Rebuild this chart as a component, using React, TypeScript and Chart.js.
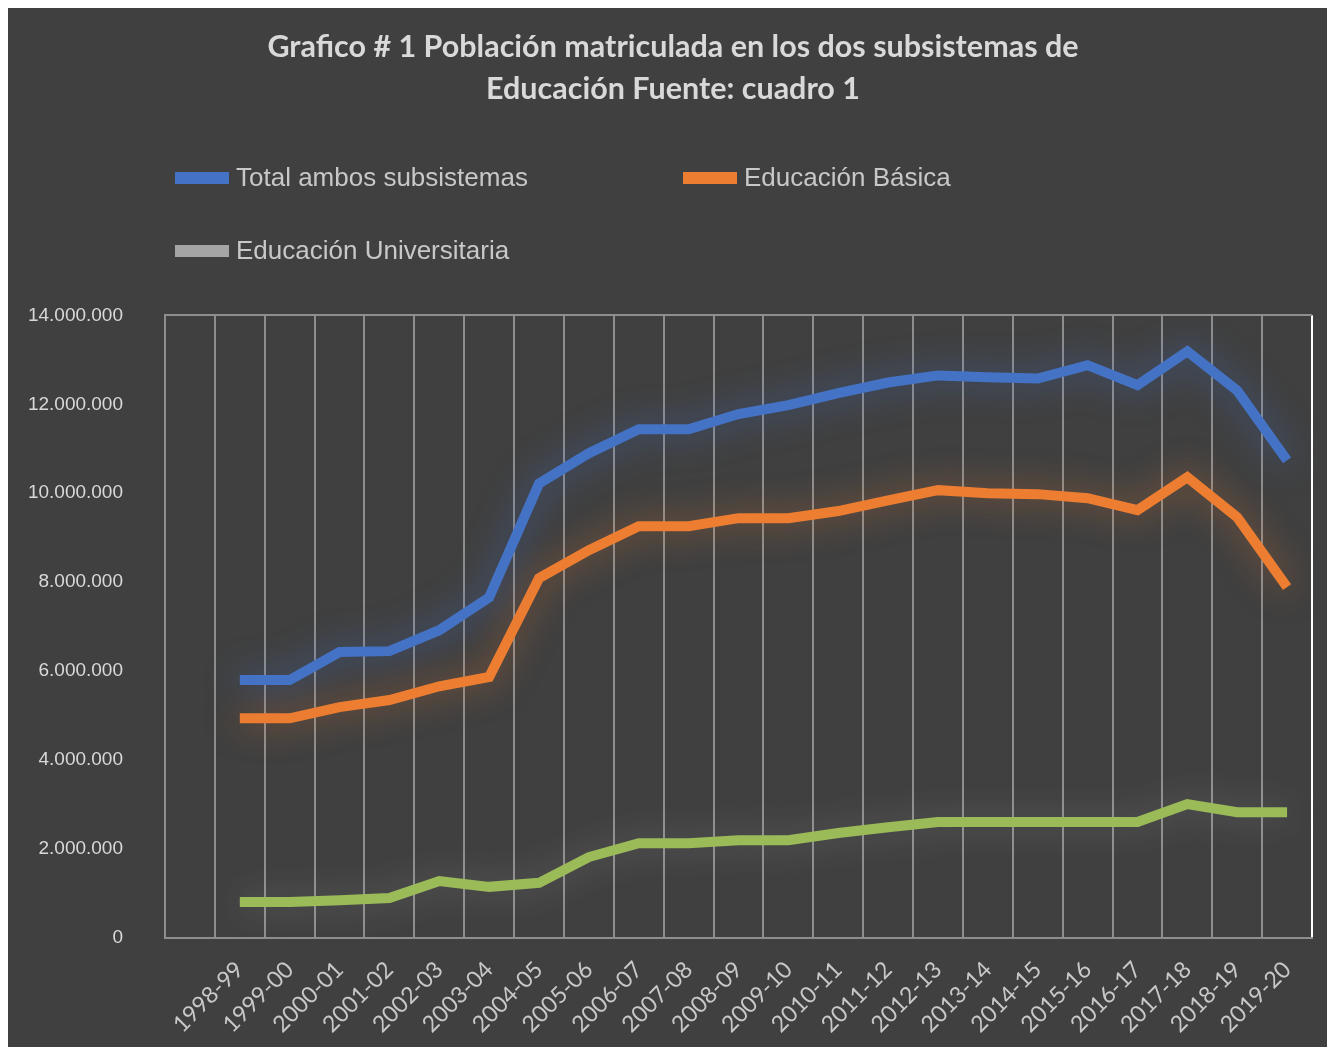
import { useEffect, useRef } from "react";
import { Chart, registerables } from "chart.js";

Chart.register(...registerables);

// ---------- data ----------
const categories: string[] = [
  "",
  "1998-99", "1999-00", "2000-01", "2001-02", "2002-03", "2003-04",
  "2004-05", "2005-06", "2006-07", "2007-08", "2008-09", "2009-10",
  "2010-11", "2011-12", "2012-13", "2013-14", "2014-15", "2015-16",
  "2016-17", "2017-18", "2018-19", "2019-20",
];

const totalAmbos: (number | null)[] = [
  null,
  5800000, 5800000, 6430000, 6450000, 6920000, 7660000,
  10220000, 10900000, 11440000, 11440000, 11780000, 11980000,
  12250000, 12490000, 12650000, 12610000, 12580000, 12880000,
  12430000, 13190000, 12310000, 10740000,
];

const educacionBasica: (number | null)[] = [
  null,
  4940000, 4940000, 5190000, 5350000, 5660000, 5870000,
  8090000, 8720000, 9260000, 9260000, 9440000, 9440000,
  9600000, 9840000, 10070000, 10000000, 9980000, 9890000,
  9620000, 10360000, 9460000, 7890000,
];

const educacionUniversitaria: (number | null)[] = [
  null,
  810000, 810000, 850000, 900000, 1280000, 1150000,
  1240000, 1820000, 2130000, 2130000, 2200000, 2200000,
  2360000, 2490000, 2610000, 2610000, 2610000, 2610000,
  2610000, 3010000, 2830000, 2830000,
];

const seriesNames = ["Total ambos subsistemas", "Educación Básica", "Educación Universitaria"];
const titleLines = [
  "Grafico # 1 Población matriculada en los dos subsistemas de",
  "Educación Fuente: cuadro 1",
];
const yMin = 0;
const yMax = 14000000;
const yStep = 2000000;

// ---------- styles ----------
const BG = "#404040";
const TEXT = "#d9d9d9";
const GRID = "#8e8e8e";
const lineColors = ["#4472C4", "#ED7D31", "#9BBB59"];
const legendSwatch = ["#4472C4", "#ED7D31", "#A5A5A5"];
const glowColors = ["rgba(68,114,196,0.6)", "rgba(237,125,49,0.5)", "rgba(210,210,210,0.25)"];

const formatThousands = (v: number) =>
  String(Math.round(v)).replace(/\B(?=(\d{3})+(?!\d))/g, ".");

const glowPlugin = {
  id: "glow",
  beforeDatasetDraw(chart: any, args: any) {
    const ctx = chart.ctx;
    ctx.save();
    ctx.shadowColor = glowColors[args.index];
    ctx.shadowBlur = 34;
  },
  afterDatasetDraw(chart: any) {
    chart.ctx.restore();
  },
};

const legendPlugin = {
  id: "customLegend",
  afterDraw(chart: any) {
    const ctx = chart.ctx;
    const cols = [167, 675];
    const rows = [170, 243];
    const slots = [
      [0, 0],
      [1, 0],
      [0, 1],
    ];
    ctx.save();
    ctx.font = "26px 'Liberation Sans', Arial, sans-serif";
    ctx.textBaseline = "middle";
    ctx.textAlign = "left";
    seriesNames.forEach((name, i) => {
      const x = cols[slots[i][0]];
      const y = rows[slots[i][1]];
      ctx.fillStyle = legendSwatch[i];
      ctx.fillRect(x, y - 6, 54, 12);
      ctx.fillStyle = "#c8c8c8";
      ctx.fillText(name, x + 61, y + 1);
    });
    ctx.restore();
  },
};

export default function App() {
  const canvasRef = useRef<HTMLCanvasElement | null>(null);

  useEffect(() => {
    if (!canvasRef.current) return;
    const datasets = [totalAmbos, educacionBasica, educacionUniversitaria].map((d, i) => ({
      label: seriesNames[i],
      data: d,
      borderColor: lineColors[i],
      backgroundColor: lineColors[i],
      borderWidth: 10,
      pointRadius: 0,
      pointHoverRadius: 0,
      tension: 0,
      fill: false,
      borderCapStyle: "butt" as const,
      borderJoinStyle: "miter" as const,
      spanGaps: false,
    }));

    const chart = new Chart(canvasRef.current, {
      type: "line",
      data: { labels: categories, datasets },
      plugins: [glowPlugin, legendPlugin],
      options: {
        animation: false,
        responsive: true,
        maintainAspectRatio: false,
        events: [],
        layout: { padding: { left: 0, right: 0, top: 0, bottom: 0 } },
        plugins: {
          legend: { display: false },
          tooltip: { enabled: false },
          title: {
            display: true,
            text: titleLines,
            color: TEXT,
            font: { family: "Lato, 'Open Sans', sans-serif", size: 30.5, weight: "bold", lineHeight: 1.35 },
            padding: { top: 19, bottom: 206 },
          },
        },
        scales: {
          x: {
            type: "category",
            offset: true,
            afterFit: (scale: any) => {
              scale.height = 109;
            },
            grid: {
              display: true,
              offset: true,
              drawTicks: false,
              lineWidth: 2,
              color: (ctx: any) => (ctx.index === undefined ? "#ffffff" : GRID),
            },
            border: { display: true, color: GRID, width: 2 },
            ticks: {
              autoSkip: false,
              maxRotation: 45,
              minRotation: 45,
              padding: 18,
              color: "#c8c8c8",
              font: { family: "Lato, 'Open Sans', sans-serif", size: 23 },
            },
          },
          y: {
            type: "linear",
            min: yMin,
            max: yMax,
            afterFit: (scale: any) => {
              scale.width = 157;
            },
            grid: {
              display: true,
              drawTicks: false,
              lineWidth: 2,
              color: (ctx: any) => (ctx.tick && ctx.tick.value === yMax ? GRID : "rgba(0,0,0,0)"),
            },
            border: { display: true, color: GRID, width: 2 },
            ticks: {
              stepSize: yStep,
              padding: 42,
              color: TEXT,
              font: { family: "'Liberation Sans', Arial, sans-serif", size: 19 },
              callback: (v: any) => formatThousands(Number(v)),
            },
          },
          yRightSpacer: {
            type: "linear",
            position: "right",
            display: true,
            afterFit: (scale: any) => {
              scale.width = 26;
            },
            grid: { display: false, drawTicks: false },
            border: { display: false },
            ticks: { display: false },
          },
        },
      },
    });
    return () => chart.destroy();
  }, []);

  return (
    <div
      style={{
        position: "fixed",
        left: 8,
        top: 8,
        width: 1330,
        height: 1039,
        background: BG,
      }}
    >
      <canvas ref={canvasRef} />
    </div>
  );
}
